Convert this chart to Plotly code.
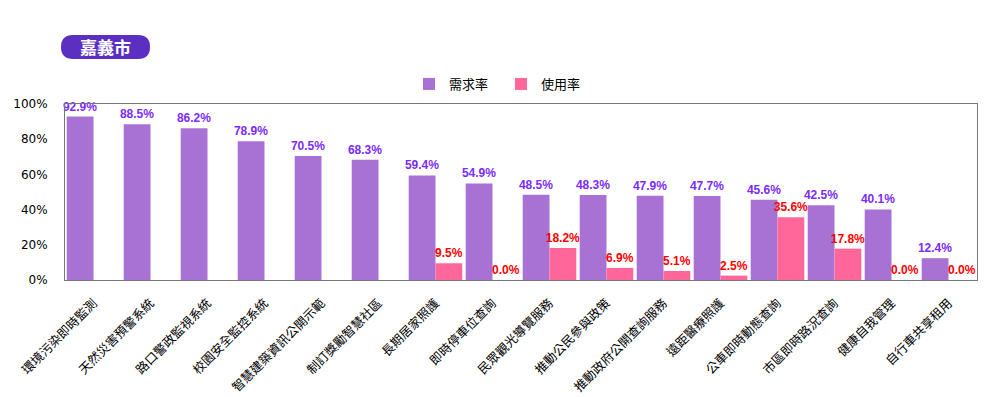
import plotly.graph_objects as go

categories = ["環境污染即時監測", "天然災害預警系統", "路口警政監視系統", "校園安全監控系統",
              "智慧建築資訊公開示範", "制訂獎勵智慧社區", "長期居家照護", "即時停車位查詢",
              "民眾觀光導覽服務", "推動公民參與政策", "推動政府公開查詢服務", "遠距醫療照護",
              "公車即時動態查詢", "市區即時路況查詢", "健康自我管理", "自行車共享租用"]
demand_rate = [92.9, 88.5, 86.2, 78.9, 70.5, 68.3, 59.4, 54.9, 48.5, 48.3, 47.9, 47.7, 45.6, 42.5, 40.1, 12.4]
usage_rate = [None, None, None, None, None, None, 9.5, 0.0, 18.2, 6.9, 5.1, 2.5, 35.6, 17.8, 0.0, 0.0]
series_names = ["需求率", "使用率"]
y_ticks = [0, 20, 40, 60, 80, 100]
y_tick_labels = ["0%", "20%", "40%", "60%", "80%", "100%"]
title_text = "嘉義市"

CJK = "Noto Sans CJK TC"
OFF = 8  # browser default body margin
W, H = 990, 397
ML, MR, MT, MB = 57, 21, 96, 125
PW, PH = W - ML - MR, H - MT - MB

def px_x(page_x):
    return (page_x - OFF - ML) / PW

def px_y(page_y):
    return (H - MB - (page_y - OFF)) / PH

def pill_path(x0, y0, x1, y1, r):
    pts = [
        f"M {px_x(x0 + r)},{px_y(y0)}",
        f"L {px_x(x1 - r)},{px_y(y0)}",
        f"Q {px_x(x1)},{px_y(y0)} {px_x(x1)},{px_y(y0 + r)}",
        f"L {px_x(x1)},{px_y(y1 - r)}",
        f"Q {px_x(x1)},{px_y(y1)} {px_x(x1 - r)},{px_y(y1)}",
        f"L {px_x(x0 + r)},{px_y(y1)}",
        f"Q {px_x(x0)},{px_y(y1)} {px_x(x0)},{px_y(y1 - r)}",
        f"L {px_x(x0)},{px_y(y0 + r)}",
        f"Q {px_x(x0)},{px_y(y0)} {px_x(x0 + r)},{px_y(y0)}",
        "Z",
    ]
    return " ".join(pts)

fig = go.Figure()
fig.add_trace(go.Bar(
    x=categories, y=demand_rate, name=series_names[0],
    marker=dict(color="#a872d4", line=dict(width=0)),
    texttemplate="%{y:.1f}%", textposition="outside", constraintext="none",
    textangle=0, cliponaxis=False,
    textfont=dict(family="Liberation Sans, Arial", size=12, color="#7b2bff", weight="bold"),
))
fig.add_trace(go.Bar(
    x=categories, y=usage_rate, name=series_names[1],
    marker=dict(color="#ff6699", line=dict(width=0)),
    texttemplate="%{y:.1f}%", textposition="outside", constraintext="none",
    textangle=0, cliponaxis=False,
    textfont=dict(family="Liberation Sans, Arial", size=12, color="#ff0000", weight="bold"),
))

fig.update_layout(
    width=W, height=H,
    margin=dict(l=ML, r=MR, t=MT, b=MB, pad=0),
    paper_bgcolor="white", plot_bgcolor="white",
    barmode="group", bargap=0.06, bargroupgap=0,
    showlegend=True,
    legend=dict(orientation="h", x=px_x(409), xanchor="left", y=px_y(84), yanchor="middle",
                font=dict(family=CJK, size=13, color="#000000"),
                entrywidth=47, entrywidthmode="pixels", itemwidth=30,
                itemclick=False, itemdoubleclick=False),
    xaxis=dict(tickangle=-45, tickfont=dict(family=CJK, size=12.5, color="#000000"),
               showline=True, linecolor="#777777", linewidth=1, mirror=True,
               showgrid=False, ticks="", automargin=False, ticklabelstandoff=10),
    yaxis=dict(range=[0, 100], tickvals=y_ticks, ticktext=y_tick_labels,
               tickfont=dict(family="DejaVu Sans", size=12, color="#000000"),
               showline=True, linecolor="#777777", linewidth=1, mirror=True,
               showgrid=False, zeroline=False, ticks="", automargin=False,
               ticklabelstandoff=14),
    shapes=[dict(type="path", xref="paper", yref="paper", path=pill_path(61, 35, 150, 59, 12),
                 fillcolor="#5a2fc2", line=dict(width=0), layer="above")],
    annotations=[dict(text=f"<b>{title_text}</b>", xref="paper", yref="paper",
                      x=px_x(105.5), y=px_y(47), xanchor="center", yanchor="middle",
                      showarrow=False, font=dict(family=CJK, size=17, color="white"))],
)

fig.write_html("out.html")
